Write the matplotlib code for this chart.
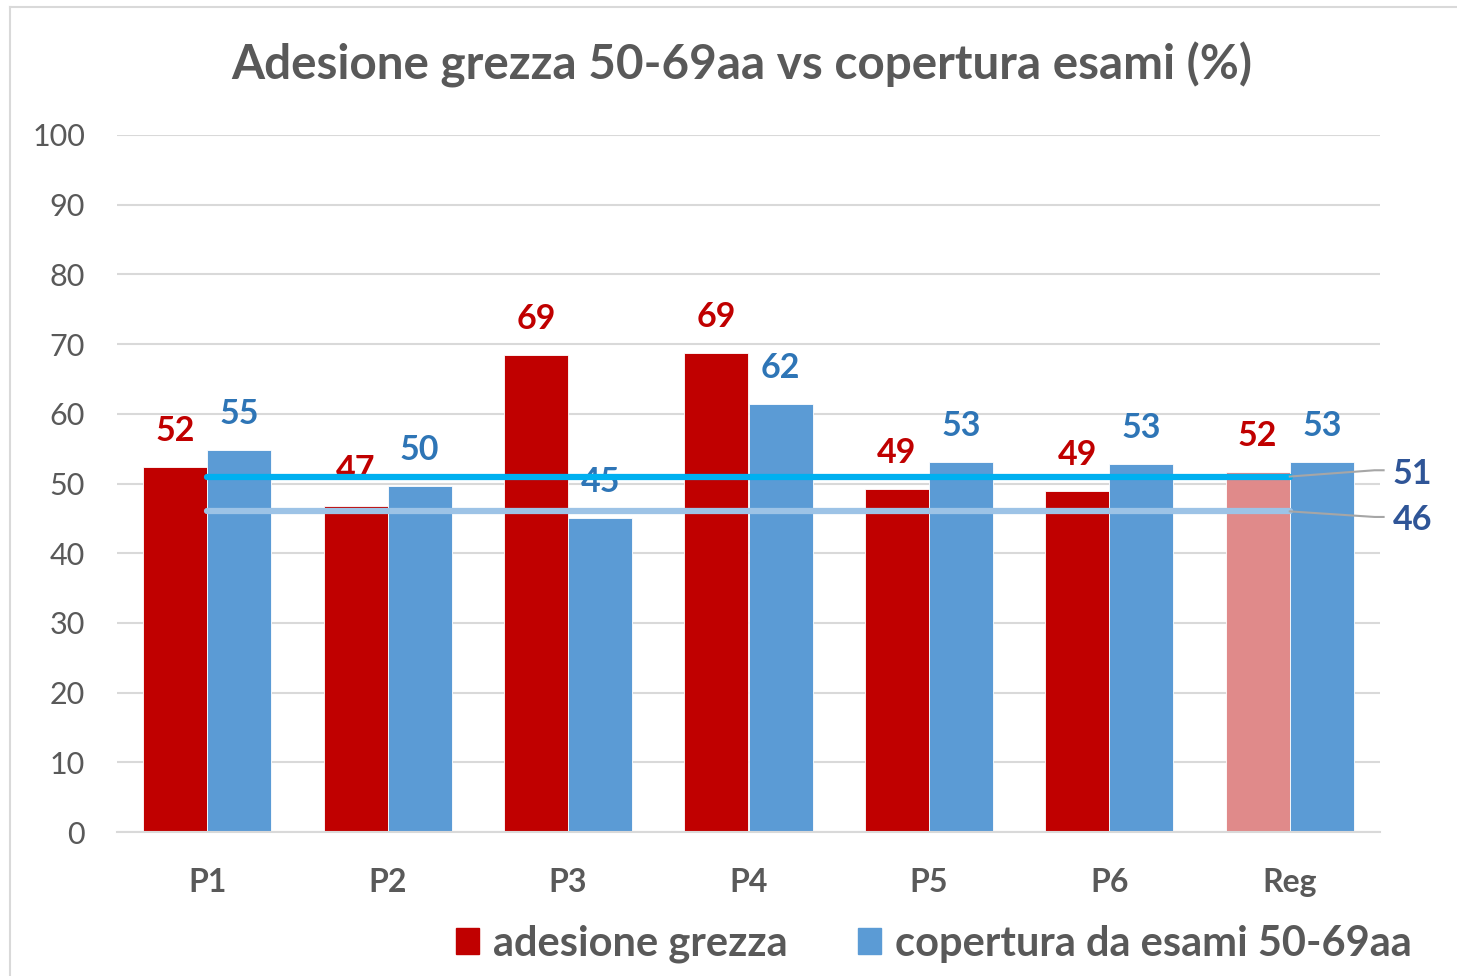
import numpy as np
import matplotlib
matplotlib.use("Agg")
import matplotlib.pyplot as plt
from matplotlib.patches import Patch
from matplotlib.lines import Line2D

# dati
categorie = ["P1", "P2", "P3", "P4", "P5", "P6", "Reg"]
adesione = [52.4, 46.8, 68.4, 68.7, 49.2, 48.9, 51.7]
copertura = [54.8, 49.6, 45.1, 61.4, 53.1, 52.8, 53.1]
adesione_lab = ["52", "47", "69", "69", "49", "49", "52"]
copertura_lab = ["55", "50", "45", "62", "53", "53", "53"]
media_copertura = 51
media_adesione = 46

grigio = "#595959"
rosso = "#C00000"
rosso_reg = "#E08A8A"
blu = "#5B9BD5"
blu_lab = "#2E75B6"

plt.rcParams['font.family'] = ['Lato', 'DejaVu Sans']

fig = plt.figure(figsize=(14.57, 9.76), dpi=100)
ax = fig.add_axes([117/1457, 1-832/976, (1380-117)/1457, (832-135)/976])

x = np.arange(len(categorie))
w = 0.355
col_ad = [rosso]*(len(categorie)-1) + [rosso_reg]
ax.bar(x - w/2, adesione, w, color=col_ad, edgecolor="white", linewidth=0.6, zorder=2)
ax.bar(x + w/2, copertura, w, color=blu, edgecolor="white", linewidth=0.6, zorder=2)

for i in range(len(categorie)):
    ax.annotate(adesione_lab[i], (x[i] - w/2, adesione[i]), xytext=(0, 26),
                textcoords="offset points", ha="center", va="center",
                fontsize=24.5, fontweight="bold", color=rosso, zorder=3)
    ax.annotate(copertura_lab[i], (x[i] + w/2, copertura[i]), xytext=(0, 26),
                textcoords="offset points", ha="center", va="center",
                fontsize=24.5, fontweight="bold", color=blu_lab, zorder=3)

# linee di riferimento
ax.plot([x[0], x[-1]], [media_copertura]*2, color="#00B0F0", lw=4.5,
        solid_capstyle="round", zorder=4)
ax.plot([x[0], x[-1]], [media_adesione]*2, color="#9DC3E6", lw=4.5,
        solid_capstyle="round", zorder=4)

# richiami etichette
ax.plot([x[-1], 6.47, 6.52], [media_copertura, 51.9, 51.9], color="#A6A6A6",
        lw=1.5, clip_on=False, zorder=5)
ax.plot([x[-1], 6.47, 6.52], [media_adesione, 45.2, 45.2], color="#A6A6A6",
        lw=1.5, clip_on=False, zorder=5)
ax.text(6.57, 51.4, str(media_copertura), fontsize=24.5, fontweight="bold",
        color="#2F5597", va="center", ha="left", clip_on=False)
ax.text(6.57, 44.8, str(media_adesione), fontsize=24.5, fontweight="bold",
        color="#2F5597", va="center", ha="left", clip_on=False)

ax.set_xlim(-0.5, len(categorie) - 0.5)
ax.set_ylim(0, 100)
ax.set_yticks(np.arange(0, 101, 10))
ax.set_xticks(x)
ax.set_xticklabels(categorie, fontweight="bold")
ax.tick_params(axis="y", labelsize=22, labelcolor=grigio, length=0, pad=23)
ax.tick_params(axis="x", labelsize=23, labelcolor=grigio, length=0, pad=26)
ax.grid(axis="y", color="#D9D9D9", lw=1.5, zorder=0)
ax.set_axisbelow(True)
for s in ["top", "right", "left"]:
    ax.spines[s].set_visible(False)
ax.spines["bottom"].set_color("#D9D9D9")
ax.spines["bottom"].set_linewidth(1.5)

fig.text(742/1457, 1-65/976, "Adesione grezza 50-69aa vs copertura esami (%)",
         ha="center", va="center", fontsize=34.3, fontweight="bold", color=grigio)

handles = [Patch(color=rosso, label="adesione grezza"),
           Patch(color=blu, label="copertura da esami 50-69aa")]
fig.legend(handles=handles, loc="center", bbox_to_anchor=(934/1457, 1-944/976),
           ncol=2, frameon=False, prop={"size": 30, "weight": "bold"},
           handlelength=0.55, handleheight=0.55,
           handletextpad=0.34, columnspacing=1.7, labelcolor=grigio,
           borderpad=0, borderaxespad=0)

# cornice
fig.add_artist(Line2D([10/1457, 10/1457], [0, 1-7/976], color="#D9D9D9", lw=1.5))
fig.add_artist(Line2D([10/1457, 1], [1-7/976, 1-7/976], color="#D9D9D9", lw=1.5))

fig.savefig("out.png", dpi=100)
